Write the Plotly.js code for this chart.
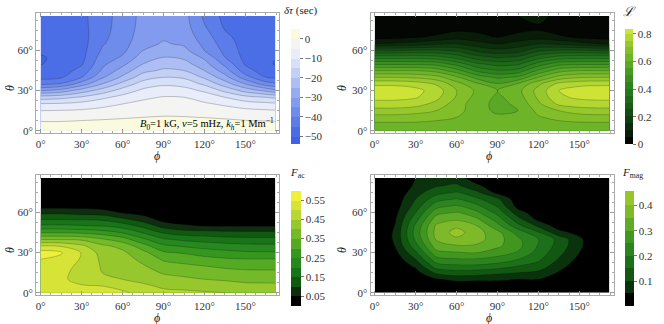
<!DOCTYPE html>
<html><head><meta charset="utf-8">
<script src="https://cdn.plot.ly/plotly-3.0.1.min.js"></script>
<style>html,body{margin:0;padding:0;background:#fff}#chart{width:664px;height:324px}</style>
</head><body><div id="chart"></div>
<script>
// grid (degrees)
const phi = [0,15,30,45,60,75,90,105,120,135,150,165,171.9];
const theta = [0,5,10,15,20,25,30,35,40,45,50,55,60,65,70,75,80,85.9];

// delta tau (sec): one column per phi value, rows along theta
const tauCols = [
 [3.5,1.2,-2,-5,-9.5,-17.5,-30,-41.2,-46.5,-48.5,-50.2,-50.5,-49,-48,-47.5,-47.5,-47.5,-47.5],
 [3.4,1.1,-1.8,-4.8,-9.3,-16.5,-27.7,-39.5,-45.6,-47.5,-48.5,-48.8,-48.5,-48,-47.5,-47.3,-47.2,-47],
 [3.3,1.5,-1.4,-4.4,-8.3,-14.3,-22.5,-32.5,-40,-43.2,-45.6,-46.5,-46.8,-47,-47,-46.8,-46.5,-46.3],
 [3.2,1.8,-1,-3.7,-6.5,-11.2,-17.8,-25,-30.8,-34.3,-36.2,-37.8,-39.4,-40.5,-41.2,-41.6,-41.8,-42],
 [3,2.2,-0.5,-2.7,-5,-8.3,-12.8,-18.3,-24,-27.9,-31.3,-34.4,-36.2,-37,-37.5,-37.8,-38,-38],
 [3,2.5,0,-1.9,-3.7,-5.9,-8.9,-12.7,-17.3,-21.4,-25,-27.5,-30,-31.5,-32.5,-33,-33.3,-33.5],
 [3,2.6,0.3,-1.5,-3.1,-4.7,-7.5,-10.8,-15,-19.2,-22.2,-25,-27.3,-29.5,-30.6,-31.2,-31.6,-32],
 [3,2.6,0.2,-1.6,-3.2,-5,-8.1,-11.7,-15.8,-20,-23.1,-26,-28.5,-30.7,-32,-32.6,-33,-33.2],
 [3,2.4,-0.1,-2.3,-4.3,-7.1,-10.8,-16,-20.8,-25,-28.1,-31,-35,-36.3,-37.5,-38.8,-40,-41],
 [3.1,2,-0.6,-3,-5.8,-10,-16.2,-22.5,-28,-32.5,-36.3,-40,-41.3,-42.5,-43.8,-45,-46,-46.5],
 [3.2,1.6,-1.3,-3.8,-7.7,-13.3,-21.7,-30,-37.9,-42.9,-45.6,-46.5,-47,-47.2,-47.2,-47.2,-47,-47],
 [3.3,1.3,-1.6,-4.4,-8.6,-15,-26,-37.5,-45,-47.8,-49.2,-49.3,-48.5,-48,-47.8,-47.6,-47.5,-47.5],
 [3.3,1.2,-1.7,-4.7,-9,-16,-28.5,-39.2,-45.5,-48.5,-50.3,-49.8,-48.8,-48.2,-48,-47.8,-47.6,-47.5]
];

// script L
const lCols = [
 [0.62,0.64,0.68,0.73,0.78,0.815,0.83,0.79,0.7,0.6,0.49,0.38,0.25,0.1,0.03,0.015,0.01,0.01],
 [0.62,0.64,0.68,0.73,0.78,0.815,0.83,0.79,0.7,0.6,0.49,0.38,0.25,0.11,0.035,0.015,0.01,0.01],
 [0.62,0.64,0.675,0.72,0.77,0.805,0.815,0.78,0.69,0.6,0.49,0.38,0.26,0.12,0.045,0.02,0.015,0.01],
 [0.62,0.635,0.665,0.7,0.735,0.765,0.778,0.745,0.67,0.58,0.48,0.37,0.26,0.14,0.06,0.03,0.02,0.02],
 [0.62,0.63,0.65,0.67,0.675,0.695,0.7,0.67,0.61,0.52,0.43,0.33,0.24,0.15,0.08,0.045,0.03,0.03],
 [0.62,0.62,0.625,0.62,0.62,0.63,0.64,0.61,0.53,0.44,0.36,0.27,0.19,0.12,0.07,0.04,0.03,0.03],
 [0.62,0.62,0.61,0.59,0.585,0.59,0.6,0.555,0.49,0.405,0.33,0.245,0.165,0.1,0.05,0.02,0.015,0.01],
 [0.62,0.62,0.615,0.6,0.61,0.625,0.635,0.605,0.51,0.42,0.34,0.26,0.18,0.12,0.07,0.04,0.04,0.05],
 [0.62,0.63,0.645,0.665,0.69,0.71,0.72,0.69,0.6,0.51,0.42,0.33,0.24,0.15,0.08,0.05,0.05,0.06],
 [0.62,0.635,0.665,0.7,0.76,0.79,0.8,0.765,0.67,0.58,0.48,0.37,0.26,0.14,0.06,0.03,0.03,0.04],
 [0.62,0.64,0.675,0.725,0.775,0.81,0.825,0.785,0.695,0.6,0.49,0.38,0.26,0.12,0.04,0.02,0.015,0.01],
 [0.62,0.64,0.68,0.73,0.78,0.815,0.83,0.79,0.7,0.6,0.49,0.38,0.25,0.1,0.03,0.015,0.01,0.01],
 [0.62,0.64,0.68,0.73,0.78,0.815,0.83,0.79,0.7,0.6,0.49,0.38,0.25,0.1,0.03,0.015,0.01,0.01]
];

// F_ac
const facCols = [
 [0.51,0.52,0.52,0.525,0.535,0.55,0.575,0.5,0.395,0.297,0.21,0.146,0.088,0.03,0.01,0.005,0.005,0.005],
 [0.51,0.515,0.51,0.51,0.515,0.535,0.555,0.495,0.395,0.297,0.21,0.146,0.088,0.03,0.01,0.005,0.005,0.005],
 [0.51,0.505,0.48,0.485,0.49,0.495,0.497,0.46,0.39,0.29,0.205,0.145,0.08,0.03,0.01,0.005,0.005,0.005],
 [0.51,0.5,0.46,0.45,0.445,0.44,0.43,0.41,0.355,0.275,0.198,0.14,0.073,0.025,0.01,0.005,0.005,0.005],
 [0.505,0.49,0.45,0.435,0.43,0.425,0.41,0.385,0.32,0.247,0.177,0.109,0.047,0.02,0.01,0.005,0.005,0.005],
 [0.49,0.46,0.435,0.42,0.405,0.385,0.365,0.32,0.26,0.197,0.135,0.076,0.03,0.015,0.01,0.005,0.005,0.005],
 [0.463,0.441,0.418,0.395,0.37,0.343,0.307,0.26,0.206,0.144,0.079,0.03,0.015,0.01,0.005,0.005,0.005,0.005],
 [0.46,0.435,0.41,0.385,0.36,0.33,0.295,0.244,0.188,0.125,0.057,0.025,0.015,0.01,0.005,0.005,0.005,0.005],
 [0.455,0.428,0.4,0.375,0.35,0.317,0.277,0.23,0.178,0.119,0.049,0.025,0.015,0.01,0.005,0.005,0.005,0.005],
 [0.45,0.42,0.395,0.368,0.34,0.307,0.267,0.22,0.17,0.112,0.048,0.025,0.015,0.01,0.005,0.005,0.005,0.005],
 [0.445,0.41,0.39,0.363,0.333,0.302,0.258,0.214,0.165,0.111,0.048,0.025,0.015,0.01,0.005,0.005,0.005,0.005],
 [0.443,0.41,0.388,0.362,0.332,0.302,0.256,0.212,0.165,0.11,0.048,0.025,0.015,0.01,0.005,0.005,0.005,0.005],
 [0.443,0.41,0.388,0.362,0.332,0.302,0.256,0.212,0.165,0.11,0.048,0.025,0.015,0.01,0.005,0.005,0.005,0.005]
];

// F_mag
const fmagCols = [
 [0,0,0,0,0,0,0,0,0,0,0,0,0,0,0,0,0,0],
 [0,0,0,0.005,0.01,0.02,0.035,0.052,0.058,0.058,0.052,0.045,0.035,0.025,0.02,0.01,0.005,0],
 [0,0,0.01,0.03,0.06,0.1,0.14,0.18,0.21,0.22,0.21,0.18,0.15,0.12,0.1,0.08,0.06,0.05],
 [0,0.01,0.045,0.11,0.175,0.23,0.283,0.325,0.355,0.365,0.357,0.325,0.28,0.23,0.18,0.13,0.095,0.07],
 [0,0.015,0.063,0.13,0.19,0.245,0.295,0.345,0.39,0.42,0.39,0.342,0.304,0.255,0.205,0.155,0.11,0.07],
 [0,0.015,0.06,0.125,0.19,0.245,0.3,0.342,0.37,0.37,0.35,0.308,0.26,0.21,0.16,0.11,0.06,0.02],
 [0,0.015,0.06,0.11,0.177,0.23,0.275,0.31,0.32,0.315,0.267,0.225,0.183,0.143,0.111,0.035,0.02,0.01],
 [0,0.02,0.05,0.1,0.15,0.2,0.245,0.265,0.26,0.23,0.167,0.117,0.07,0.03,0.015,0.01,0.005,0],
 [0,0.02,0.05,0.088,0.13,0.16,0.18,0.195,0.2,0.155,0.09,0.035,0.02,0.01,0.005,0,0,0],
 [0,0,0.02,0.045,0.07,0.095,0.115,0.13,0.133,0.065,0.025,0.01,0.005,0,0,0,0,0],
 [0,0,0,0.01,0.02,0.035,0.05,0.06,0.06,0.035,0.01,0.005,0,0,0,0,0,0],
 [0,0,0,0,0,0,0,0,0,0,0,0,0,0,0,0,0,0],
 [0,0,0,0,0,0,0,0,0,0,0,0,0,0,0,0,0,0]
];

// contour levels and colour-bar ranges
const tauLevels = {start:-50, end:0, size:5};   const tauRange = [-53.7, 5.1];
const lLevels = {start:0.05, end:0.8, size:0.05}; const lRange = [-0.0005, 0.834];
const facLevels = {start:0.05, end:0.55, size:0.05}; const facRange = [0, 0.6];
const fmagLevels = {start:0.05, end:0.4, size:0.05}; const fmagRange = [0, 0.457];

// band colours (lowest band first)
const tauBands = ['rgb(62,97,229)','rgb(75,110,231)','rgb(92,124,233)','rgb(110,140,235)','rgb(130,155,238)',
 'rgb(150,172,240)','rgb(172,190,243)','rgb(195,208,246)','rgb(215,224,249)','rgb(233,237,250)','rgb(244,245,243)','rgb(250,250,222)'];
const lBands = ['rgb(3,6,3)','rgb(8,28,8)','rgb(12,45,12)','rgb(16,60,16)','rgb(20,75,20)','rgb(25,90,22)','rgb(30,105,25)',
 'rgb(37,118,28)','rgb(45,130,30)','rgb(57,143,33)','rgb(70,155,35)','rgb(90,168,38)','rgb(110,180,40)','rgb(130,190,42)',
 'rgb(150,200,45)','rgb(178,214,50)','rgb(205,228,55)'];
const facBands = ['rgb(0,0,0)','rgb(15,45,15)','rgb(15,90,15)','rgb(25,115,25)','rgb(40,135,30)','rgb(55,150,30)',
 'rgb(85,170,35)','rgb(115,185,40)','rgb(150,200,45)','rgb(185,215,50)','rgb(215,228,55)','rgb(240,240,60)'];
const fmagBands = ['rgb(0,0,0)','rgb(10,50,12)','rgb(18,88,18)','rgb(28,112,25)','rgb(45,132,30)','rgb(65,150,32)',
 'rgb(95,170,38)','rgb(125,185,40)','rgb(150,198,42)'];

const tickDeg = [0,30,60,90,120,150];
const tickDegText = ['0°','30°','60°','90°','120°','150°'];
const tickTheta = [0,30,60];
const tickThetaText = ['0°','30°','60°'];
const tauTicks = [0,-10,-20,-30,-40,-50];
const lTicks = [0,0.2,0.4,0.6,0.8];
const lTickText = ['0','0.2','0.4','0.6','0.8'];
const facTicks = [0.05,0.15,0.25,0.35,0.45,0.55];
const facTickText = ['0.05','0.15','0.25','0.35','0.45','0.55'];
const fmagTicks = [0.1,0.2,0.3,0.4];

const serif = 'Liberation Serif, Times New Roman, serif';

function fillScale(cols) {
  return cols.map((c, i) => [i / (cols.length - 1), c]);
}
function stepScale(lv, cols, rng) {
  const sc = [[0, cols[0]]];
  let k = 0;
  for (let L = lv.start; L <= lv.end + 1e-9; L += lv.size) {
    const f = (L - rng[0]) / (rng[1] - rng[0]);
    sc.push([f, cols[k]]); sc.push([f, cols[k + 1]]); k++;
  }
  sc.push([1, cols[k]]);
  return sc;
}

function cb(x, ytop, thick, extra) {
  return Object.assign({x:x, xanchor:'left', y:ytop, yanchor:'top', len:115, lenmode:'pixels',
    thickness:thick, xpad:0, ypad:0, outlinewidth:0, ticks:'outside', ticklen:3, tickcolor:'#777',
    tickmode:'array', tickfont:{family:serif, size:11, color:'#333'}}, extra);
}
function ctr(cols, xa, ya, lv, bands, lineCol) {
  return {type:'contour', x:phi, y:theta, z:cols, transpose:true, xaxis:xa, yaxis:ya,
    colorscale:fillScale(bands), autocontour:false, showscale:false,
    contours:{start:lv.start, end:lv.end, size:lv.size, coloring:'fill', showlines:true},
    line:{color:lineCol, width:0.6, smoothing:1}, hoverinfo:'skip'};
}
function scaleHolder(xa, ya, lv, bands, rng, cbar) {
  return {type:'scatter', mode:'markers', x:[phi[0]], y:[theta[0]], xaxis:xa, yaxis:ya, hoverinfo:'skip',
    marker:{size:1, opacity:0, color:[rng[0]], cmin:rng[0], cmax:rng[1], colorscale:stepScale(lv, bands, rng),
      showscale:true, colorbar:cbar}};
}

const data = [
  ctr(tauCols,'x','y',tauLevels,tauBands,'rgba(40,40,40,0.45)'),
  ctr(lCols,'x2','y2',lLevels,lBands,'rgba(0,0,0,0.35)'),
  ctr(facCols,'x3','y3',facLevels,facBands,'rgba(0,0,0,0.35)'),
  ctr(fmagCols,'x4','y4',fmagLevels,fmagBands,'rgba(0,0,0,0.3)'),
  scaleHolder('x','y',tauLevels,tauBands,tauRange, cb(0.4378,0.9114,9,{tickvals:tauTicks})),
  scaleHolder('x2','y2',lLevels,lBands,lRange, cb(0.9417,0.9096,8,{tickvals:lTicks,ticktext:lTickText})),
  scaleHolder('x3','y3',facLevels,facBands,facRange, cb(0.4378,0.4114,10,{tickvals:facTicks,ticktext:facTickText})),
  scaleHolder('x4','y4',fmagLevels,fmagBands,fmagRange, cb(0.9417,0.4096,9,{tickvals:fmagTicks}))
];

function xax(domain, range, anchor) {
  return {domain:domain, range:range, anchor:anchor, tickmode:'array', tickvals:tickDeg, ticktext:tickDegText,
    ticks:'inside', ticklen:4, tickcolor:'#999', showline:true, linecolor:'#aaa', linewidth:1, mirror:'ticks',
    ticklabelstandoff:0,
    showgrid:false, zeroline:false, tickfont:{family:serif, size:11, color:'#333'},
    minor:{tickmode:'array', tickvals:[7.5,15,22.5,37.5,45,52.5,67.5,75,82.5,97.5,105,112.5,127.5,135,142.5,157.5,165,172.5], ticks:'inside', ticklen:2, tickcolor:'#aaa'}};
}
function yax(domain, range, anchor) {
  return {domain:domain, range:range, anchor:anchor, tickmode:'array', tickvals:tickTheta, ticktext:tickThetaText,
    ticks:'inside', ticklen:4, tickcolor:'#999', showline:true, linecolor:'#aaa', linewidth:1, mirror:'ticks',
    showgrid:false, zeroline:false, tickfont:{family:serif, size:11, color:'#333'},
    minor:{tickmode:'array', tickvals:[7.5,15,22.5,37.5,45,52.5,67.5,75,82.5], ticks:'inside', ticklen:2, tickcolor:'#aaa'}};
}

const xr1 = [-3.44,174.6], xr2 = [-2.93,175.3], yr = [-1.95,87.92];
const dx1 = [0.05422,0.42018], dx2 = [0.55828,0.92470];
const dyT = [0.58858,0.95895], dyB = [0.08858,0.45895];

function ann(x, y, text, size, extra) {
  return Object.assign({xref:'paper', yref:'paper', x:x/664, y:1-y/324, text:text, showarrow:false,
    xanchor:'center', yanchor:'middle', font:{family:serif, size:size, color:'#222'}}, extra||{});
}

const layout = {
  width:664, height:324, margin:{l:0,r:0,t:0,b:0, autoexpand:false},
  paper_bgcolor:'#fff', plot_bgcolor:'#fff', showlegend:false,
  xaxis: xax(dx1, xr1, 'y'), yaxis: yax(dyT, yr, 'x'),
  xaxis2: xax(dx2, xr2, 'y2'), yaxis2: yax(dyT, yr, 'x2'),
  xaxis3: xax(dx1, xr1, 'y3'), yaxis3: yax(dyB, yr, 'x3'),
  xaxis4: xax(dx2, xr2, 'y4'), yaxis4: yax(dyB, yr, 'x4'),
  annotations: [
    ann(276, 124, '<i>B</i><sub>0</sub>=1 kG, <i>ν</i>=5 mHz, <i>k<sub>h</sub></i>=1 Mm<sup>−1</sup>', 10.5, {xanchor:'right', font:{family:serif,size:10.5,color:'#000'}}),
    ann(157, 156, '<i>ϕ</i>', 12), ann(489, 156, '<i>ϕ</i>', 12),
    ann(157, 318, '<i>ϕ</i>', 12), ann(489, 318, '<i>ϕ</i>', 12),
    ann(10, 88, '<i>θ</i>', 12, {textangle:-90}), ann(342, 88, '<i>θ</i>', 12, {textangle:-90}),
    ann(10, 250, '<i>θ</i>', 12, {textangle:-90}), ann(342, 250, '<i>θ</i>', 12, {textangle:-90}),
    ann(301, 10, '<i>δτ</i> (sec)', 11),
    ann(629, 12, '<i>ℒ</i>', 13),
    ann(297, 173, '<i>F</i><sub>ac</sub>', 11),
    ann(632, 173, '<i>F</i><sub>mag</sub>', 11)
  ]
};

Plotly.newPlot('chart', data, layout, {staticPlot:true, displayModeBar:false});
</script>
</body></html>
